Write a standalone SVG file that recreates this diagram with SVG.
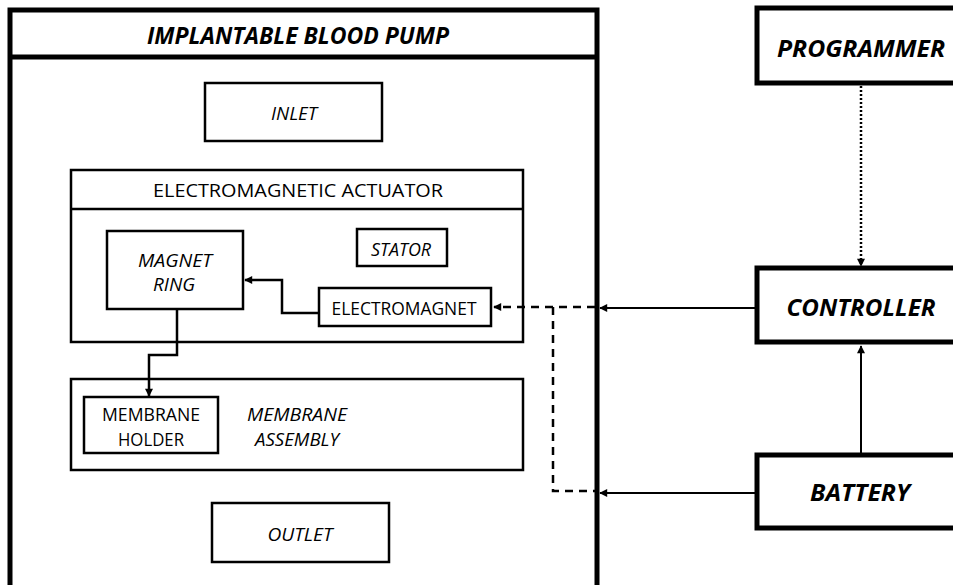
<svg xmlns="http://www.w3.org/2000/svg" width="953" height="585" viewBox="0 0 953 585">
<style>
  .thick{fill:#fff;stroke:#000;stroke-width:5}
  .box{fill:#fff;stroke:#000;stroke-width:2.5}
  .t{font-family:"Open Sans","Liberation Sans",sans-serif;font-size:18.5px;fill:#000;text-anchor:middle;dominant-baseline:central}
  .i{font-style:italic}
  .b{font-weight:bold;font-style:italic;font-size:23px}
  .c{fill:none;stroke:#000;stroke-width:2.5}
  .thin{fill:none;stroke:#000;stroke-width:2}
  .dash{fill:none;stroke:#000;stroke-width:2.5;stroke-dasharray:8 6}
  .dot{fill:none;stroke:#000;stroke-width:2.5;stroke-dasharray:2 2}
</style>
<defs>
  <marker id="ah" viewBox="0 0 10 10" refX="9" refY="5" markerWidth="9" markerHeight="8" markerUnits="userSpaceOnUse" orient="auto">
    <path d="M0,0 L10,5 L0,10 z" fill="#000"/>
  </marker>
</defs>
<rect width="953" height="585" fill="#fff"/>

<g id="pump">
  <rect class="thick" x="10" y="10" width="587" height="600"/>
  <line x1="10" y1="57" x2="597" y2="57" stroke="#000" stroke-width="5"/>
  <text class="t b" x="298" y="35" textLength="302" lengthAdjust="spacingAndGlyphs">IMPLANTABLE BLOOD PUMP</text>
</g>
<g id="inlet">
  <rect class="box" x="205" y="83" width="177" height="58"/>
  <text class="t i" x="294" y="112" textLength="46" lengthAdjust="spacingAndGlyphs">INLET</text>
</g>
<g id="actuator">
  <rect class="box" x="71" y="170" width="452" height="172"/>
  <line x1="71" y1="209" x2="523" y2="209" stroke="#000" stroke-width="2.5"/>
  <text class="t" x="298" y="189" textLength="290" lengthAdjust="spacingAndGlyphs">ELECTROMAGNETIC ACTUATOR</text>
</g>
<g id="magnet-ring">
  <rect class="box" x="107" y="231" width="136" height="78"/>
  <text class="t i" x="175" y="259" textLength="74" lengthAdjust="spacingAndGlyphs">MAGNET</text>
  <text class="t i" x="174" y="283" textLength="42" lengthAdjust="spacingAndGlyphs">RING</text>
</g>
<g id="stator">
  <rect class="box" x="357" y="229" width="90" height="37"/>
  <text class="t i" x="401" y="248" textLength="60" lengthAdjust="spacingAndGlyphs">STATOR</text>
</g>
<g id="electromagnet">
  <rect class="box" x="319" y="288" width="172" height="38"/>
  <text class="t" x="404" y="307" textLength="145" lengthAdjust="spacingAndGlyphs">ELECTROMAGNET</text>
</g>
<g id="membrane-assembly">
  <rect class="box" x="71" y="379" width="452" height="91"/>
  <text class="t i" x="297" y="413" textLength="100" lengthAdjust="spacingAndGlyphs">MEMBRANE</text>
  <text class="t i" x="297" y="438" textLength="84" lengthAdjust="spacingAndGlyphs">ASSEMBLY</text>
</g>
<g id="membrane-holder">
  <rect class="box" x="84" y="397" width="134" height="56"/>
  <text class="t" x="151" y="413" textLength="98" lengthAdjust="spacingAndGlyphs">MEMBRANE</text>
  <text class="t" x="151" y="438" textLength="66" lengthAdjust="spacingAndGlyphs">HOLDER</text>
</g>
<g id="outlet">
  <rect class="box" x="212" y="503" width="177" height="59"/>
  <text class="t i" x="300" y="533" textLength="65" lengthAdjust="spacingAndGlyphs">OUTLET</text>
</g>
<g id="programmer">
  <rect class="thick" x="757" y="8" width="210" height="75"/>
  <text class="t b" x="861" y="48" textLength="168" lengthAdjust="spacingAndGlyphs">PROGRAMMER</text>
</g>
<g id="controller">
  <rect class="thick" x="757" y="268" width="210" height="74"/>
  <text class="t b" x="861" y="307" textLength="149" lengthAdjust="spacingAndGlyphs">CONTROLLER</text>
</g>
<g id="battery">
  <rect class="thick" x="757" y="455" width="210" height="73"/>
  <text class="t b" x="860" y="492" textLength="100" lengthAdjust="spacingAndGlyphs">BATTERY</text>
</g>

<g id="connectors">
  <line class="dot" x1="861" y1="86" x2="861" y2="266" marker-end="url(#ah)"/>
  <line class="thin" x1="757" y1="308" x2="600" y2="308" marker-end="url(#ah)"/>
  <line class="thin" x1="757" y1="493" x2="600" y2="493" marker-end="url(#ah)"/>
  <line class="thin" x1="861" y1="455" x2="861" y2="346" marker-end="url(#ah)"/>
  <line class="dash" x1="595" y1="307" x2="494" y2="307" marker-end="url(#ah)"/>
  <path class="dash" d="M553,307 V491 H595"/>
  <path class="c" d="M319,313 H282 V280 H245" marker-end="url(#ah)"/>
  <path class="c" d="M177,309 V355 H149 V396" marker-end="url(#ah)"/>
</g>
</svg>
